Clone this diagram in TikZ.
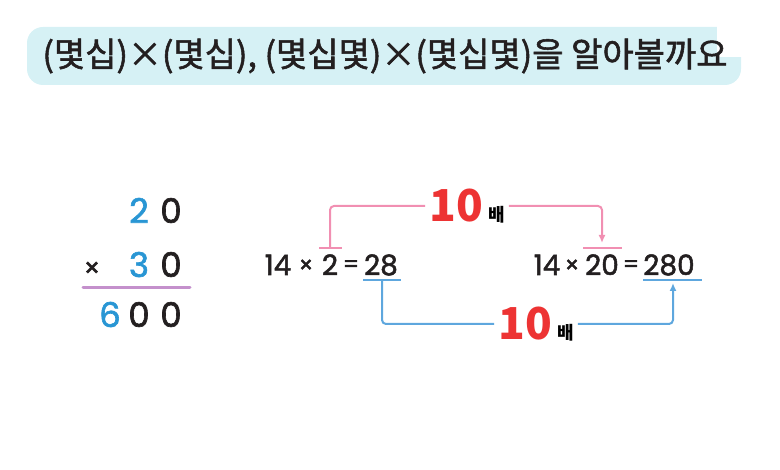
\documentclass[tikz,border=0pt]{standalone}
\usepackage{fontspec}
\setmainfont{Noto Sans CJK KR}
\newfontfamily\titlefont{Noto Sans CJK KR}[FakeBold=1.6]
\newfontfamily\numfont{Poppins}[FakeBold=1.8]
\usetikzlibrary{arrows.meta,calc,positioning}
\definecolor{bannercyan}{RGB}{214,241,245}
\definecolor{digitblue}{RGB}{41,150,212}
\definecolor{inkblack}{RGB}{35,31,32}
\definecolor{rulepurple}{RGB}{196,144,204}
\definecolor{linkpink}{RGB}{241,143,178}
\definecolor{linkblue}{RGB}{94,167,222}
\definecolor{timesred}{RGB}{237,51,51}

\begin{document}
\begin{tikzpicture}[x=1pt,y=-1pt,
    colnum/.style={inner sep=0pt, anchor=base, font=\numfont\fontsize{34}{34}\selectfont, text=inkblack},
    eqtok/.style={inner sep=0pt, anchor=base, font=\numfont\fontsize{28}{28}\selectfont, text=inkblack},
    eqsign/.style={eqtok, font=\numfont\fontsize{23}{23}\selectfont},
    tenlabel/.style={inner sep=0pt, inner xsep=4pt, fill=white},
    pinkline/.style={draw=linkpink, line width=2pt},
    blueline/.style={draw=linkblue, line width=2pt},
    linktip/.style={-{Latex[length=8pt,width=7pt]}, rounded corners=4pt}]
    \useasboundingbox (0,0) rectangle (780,470);

    % Title banner
    \fill[bannercyan, rounded corners=16pt] (27,27) rectangle (741,85);
    \fill[white] (717,20) rectangle (760,57);
    \node[inner sep=0pt, text=inkblack, font=\titlefont\fontsize{34}{40}\selectfont] (title) at (385,56) {(몇십)×(몇십), (몇십몇)×(몇십몇)을 알아볼까요};

    % Vertical multiplication
    \node[colnum, text=digitblue] (topTens) at (139,223) {2};
    \node[colnum] (topOnes) at (171,223) {0};
    \node[colnum, font=\numfont\fontsize{26}{26}\selectfont] (timesSign) at (92,277) {×};
    \node[colnum, text=digitblue] (midTens) at (139,277) {3};
    \node[colnum] (midOnes) at (171,277) {0};
    \draw[rulepurple, line width=3pt, line cap=round] (83,288) -- (190,288);
    \node[colnum, text=digitblue] (resHund) at (110,327) {6};
    \node[colnum] (resTens) at (139,327) {0};
    \node[colnum] (resOnes) at (171,327) {0};

    % Equations
    \node[eqtok] (eqAa) at (278,275) {14};
    \node[eqsign] (eqAx) at (306,273) {×};
    \node[eqtok] (eqAb) at (330,275) {2};
    \node[eqsign] (eqAeq) at (351,272) {=};
    \node[eqtok] (eqAres) at (381,275) {28};
    \node[eqtok] (eqBa) at (547,275) {14};
    \node[eqsign] (eqBx) at (572,273) {×};
    \node[eqtok] (eqBb) at (602,275) {20};
    \node[eqsign] (eqBeq) at (631,272) {=};
    \node[eqtok] (eqBres) at (669,275) {280};

    % Tick marks
    \coordinate (upA) at (330,248);
    \coordinate (upB) at (602,248);
    \coordinate (dnA) at (382,280);
    \coordinate (dnB) at (673,280);
    \draw[pinkline] ([xshift=-11pt]upA) -- ([xshift=12pt]upA);
    \draw[pinkline] ([xshift=-19pt]upB) -- ([xshift=20pt]upB);
    \draw[blueline] ([xshift=-19pt]dnA) -- ([xshift=19pt]dnA);
    \draw[blueline] ([xshift=-30pt]dnB) -- ([xshift=29pt]dnB);

    % 10 times labels
    \node[tenlabel] (tenA) at (467,206) {{\color{timesred}\bfseries\fontsize{44}{44}\selectfont 10}\hspace{5pt}{\bfseries\fontsize{18}{18}\selectfont 배}};
    \node[tenlabel] (tenB) at (536,324) {{\color{timesred}\bfseries\fontsize{44}{44}\selectfont 10}\hspace{5pt}{\bfseries\fontsize{18}{18}\selectfont 배}};

    % Connectors
    \draw[pinkline, linktip] (upA) |- (tenA) -| ([yshift=5pt]upB);
    \draw[blueline, linktip] (dnA) |- (tenB) -| ([yshift=-3pt]dnB);
\end{tikzpicture}
\end{document}
